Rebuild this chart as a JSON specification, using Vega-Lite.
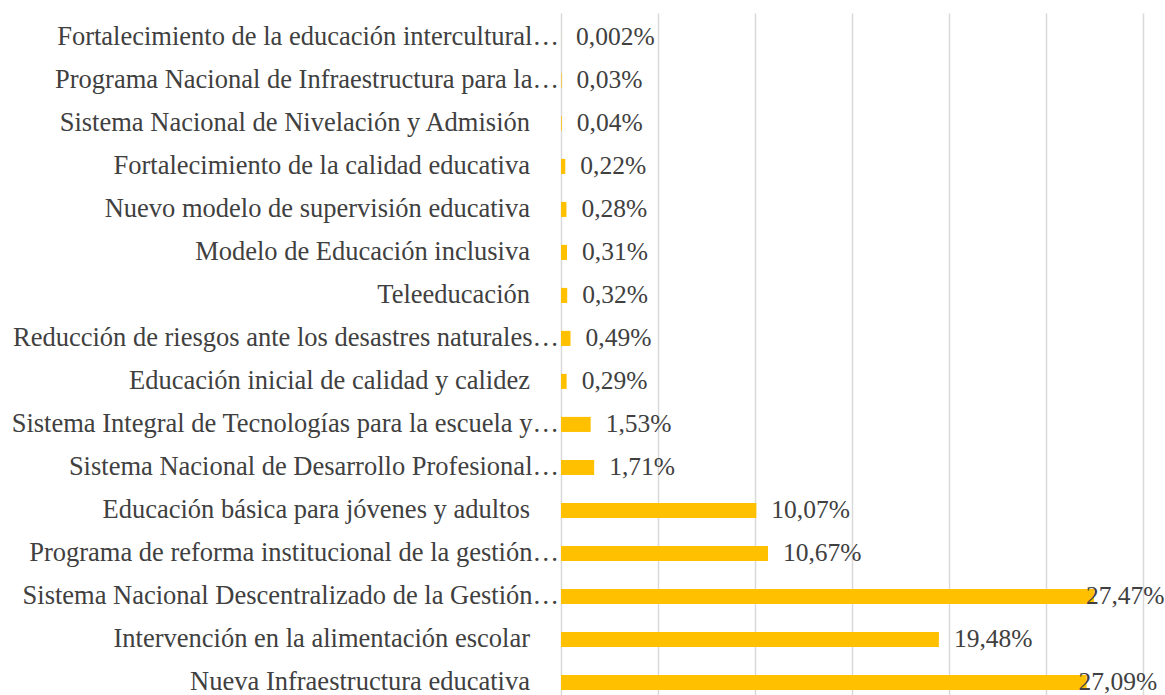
{
  "$schema": "https://vega.github.io/schema/vega-lite/v6.json",
  "width": 582,
  "height": 682,
  "autosize": {"type": "none"},
  "padding": {"left": 561, "top": 13, "right": 22, "bottom": 0},
  "background": "white",
  "config": {"view": {"stroke": null}, "font": "'Liberation Serif', Tinos, 'Times New Roman', 'DejaVu Serif', serif"},
  "data": {
    "values": [
      {"programa": "Fortalecimiento de la educación intercultural…", "valor": 0.002, "etiqueta": "0,002%"},
      {"programa": "Programa Nacional de Infraestructura para la…", "valor": 0.03, "etiqueta": "0,03%"},
      {"programa": "Sistema Nacional de Nivelación y Admisión", "valor": 0.04, "etiqueta": "0,04%"},
      {"programa": "Fortalecimiento de la calidad educativa", "valor": 0.22, "etiqueta": "0,22%"},
      {"programa": "Nuevo modelo de supervisión educativa", "valor": 0.28, "etiqueta": "0,28%"},
      {"programa": "Modelo de Educación inclusiva", "valor": 0.31, "etiqueta": "0,31%"},
      {"programa": "Teleeducación", "valor": 0.32, "etiqueta": "0,32%"},
      {"programa": "Reducción de riesgos ante los desastres naturales…", "valor": 0.49, "etiqueta": "0,49%"},
      {"programa": "Educación inicial de calidad y calidez", "valor": 0.29, "etiqueta": "0,29%"},
      {"programa": "Sistema Integral de Tecnologías para la escuela y…", "valor": 1.53, "etiqueta": "1,53%"},
      {"programa": "Sistema Nacional de Desarrollo Profesional…", "valor": 1.71, "etiqueta": "1,71%"},
      {"programa": "Educación básica para jóvenes y adultos", "valor": 10.07, "etiqueta": "10,07%"},
      {"programa": "Programa de reforma institucional de la gestión…", "valor": 10.67, "etiqueta": "10,67%"},
      {"programa": "Sistema Nacional Descentralizado de la Gestión…", "valor": 27.47, "etiqueta": "27,47%"},
      {"programa": "Intervención en la alimentación escolar", "valor": 19.48, "etiqueta": "19,48%"},
      {"programa": "Nueva Infraestructura educativa", "valor": 27.09, "etiqueta": "27,09%"}
    ]
  },
  "encoding": {
    "y": {
      "field": "programa",
      "type": "nominal",
      "sort": null,
      "title": null,
      "scale": {"paddingInner": 0.65, "paddingOuter": 0.255, "align": 0.77},
      "axis": null
    }
  },
  "layer": [
    {
      "mark": {"type": "bar", "color": "#FFC000"},
      "encoding": {
        "x": {
          "field": "valor",
          "type": "quantitative",
          "title": null,
          "scale": {"domain": [0, 30], "nice": false},
          "axis": {
            "values": [0, 5, 10, 15, 20, 25, 30],
            "labels": false,
            "ticks": false,
            "domain": false,
            "grid": true,
            "gridColor": "#d9d9d9",
            "gridWidth": 1.5
          }
        }
      }
    },
    {
      "transform": [{"filter": "indexof(datum.programa, '…') >= 0"}],
      "mark": {"type": "text", "align": "right", "baseline": "middle", "dx": -2, "fontSize": 26.5, "color": "#404040"},
      "encoding": {
        "x": {"datum": 0, "type": "quantitative"},
        "text": {"field": "programa"}
      }
    },
    {
      "transform": [{"filter": "indexof(datum.programa, '…') < 0"}],
      "mark": {"type": "text", "align": "right", "baseline": "middle", "dx": -31, "fontSize": 26.5, "color": "#404040"},
      "encoding": {
        "x": {"datum": 0, "type": "quantitative"},
        "text": {"field": "programa"}
      }
    },
    {
      "transform": [{"filter": "datum.valor < 25"}],
      "mark": {"type": "text", "align": "left", "baseline": "middle", "dx": 15, "fontSize": 25.5, "color": "#404040"},
      "encoding": {
        "x": {"field": "valor", "type": "quantitative"},
        "text": {"field": "etiqueta"}
      }
    },
    {
      "transform": [{"filter": "datum.valor >= 25"}],
      "mark": {"type": "text", "align": "left", "baseline": "middle", "dx": -8, "fontSize": 25.5, "color": "#404040"},
      "encoding": {
        "x": {"field": "valor", "type": "quantitative"},
        "text": {"field": "etiqueta"}
      }
    }
  ]
}
